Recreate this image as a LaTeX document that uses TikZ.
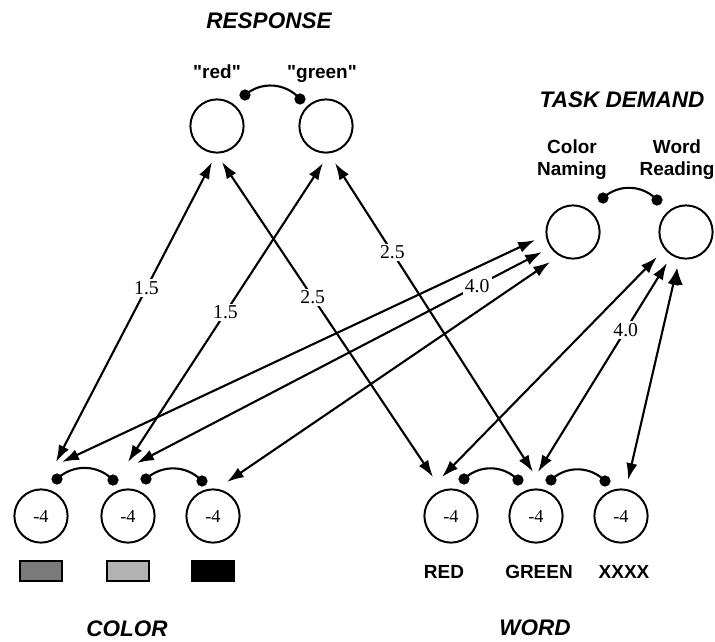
\documentclass[tikz,border=0pt]{standalone}
\usepackage{fontspec}
\setmainfont{Liberation Serif}
\setsansfont{Liberation Sans}[Ligatures=TeXOff]
\usepackage{tikz}
\usetikzlibrary{arrows.meta,positioning}
\definecolor{swatchdark}{gray}{0.48}
\definecolor{swatchlight}{gray}{0.70}
\tikzset{
  unit/.style={circle,draw,line width=1.4pt,minimum size=1.33cm,inner sep=0pt,
    font=\fontsize{13}{15}\selectfont},
  pool/.style={font=\sffamily\bfseries\itshape\fontsize{16}{19}\selectfont},
  lab/.style={font=\sffamily\bfseries\fontsize{13.5}{15.5}\selectfont,align=center},
  wt/.style={fill=white,inner sep=1.5pt,font=\fontsize{14}{16}\selectfont},
  swatch/.style={draw,line width=0.9pt,minimum width=1.05cm,minimum height=0.5cm,inner sep=0pt}
}
\begin{document}
\begin{tikzpicture}[x=0.025cm,y=-0.025cm,line width=1.5pt,
  >={Latex[length=12pt,width=8pt]}]
\useasboundingbox (0,0) rectangle (715,641);
%%First place the units
\node[unit] (r1) at (217,126) {};
\node[unit] (r2) at (326,126) {};
\node[unit] (cn) at (573,232) {};
\node[unit] (wr) at (686,232) {};
\node[unit] (c1) at (41,516) {-4};
\node[unit] (c2) at (128,516) {-4};
\node[unit] (c3) at (213,516) {-4};
\node[unit] (w1) at (451,516) {-4};
\node[unit] (w2) at (536,516) {-4};
\node[unit] (w3) at (621,516) {-4};
%%Titles and labels
\node[pool] (tresp) at (269,21) {RESPONSE};
\node[pool] (ttask) at (622,100) {TASK DEMAND};
\node[pool] (tcol) at (127,629) {COLOR};
\node[pool] (tword) at (535,628) {WORD};
\node[lab,anchor=base] (lred) at (217,78) {"red"};
\node[lab,anchor=base] (lgreen) at (322,78) {"green"};
\node[lab] (lcn) at (572,160) {Color\\Naming};
\node[lab] (lwr) at (677,160) {Word\\Reading};
\node[lab] (wred) at (444,572) {RED};
\node[lab] (wgreen) at (539,572) {GREEN};
\node[lab] (wxxxx) at (624,572) {XXXX};
%%Colour patches
\node[swatch,fill=swatchdark] (s1) [below=0.42cm of c1] {};
\node[swatch,fill=swatchlight] (s2) [below=0.42cm of c2] {};
\node[swatch,fill=black] (s3) [below=0.42cm of c3] {};
%%Ports where the arrows end
\coordinate (r1-c1) at (212,162);
\coordinate (r1-w1) at (222,162);
\coordinate (r2-c2) at (323,163);
\coordinate (r2-w2) at (335,163);
\coordinate (cn-c1) at (535,240);
\coordinate (cn-c2) at (542,252);
\coordinate (cn-c3) at (550,262);
\coordinate (wr-w1) at (657,257);
\coordinate (wr-w2) at (667,263);
\coordinate (wr-w3) at (677,268);
\coordinate (c1-r1) at (56,462);
\coordinate (c1-cn) at (62,462);
\coordinate (c2-r2) at (128,462);
\coordinate (c2-cn) at (137,463);
\coordinate (c3-cn) at (227,482);
\coordinate (w1-r1) at (433,477);
\coordinate (w1-wr) at (442,477);
\coordinate (w2-r2) at (533,472);
\coordinate (w2-wr) at (538,472);
\coordinate (w3-wr) at (628,480);
%%Draw the weighted arrows
\draw[<->]
(r1-c1) edge node[wt,pos=0.42] {1.5} (c1-r1)
(r2-c2) edge node[wt,pos=0.5] {1.5} (c2-r2)
(r1-w1) edge node[wt,pos=0.43] {2.5} (w1-r1)
(r2-w2) edge node[wt,pos=0.29] {2.5} (w2-r2)
(cn-c1) edge (c1-cn)
(cn-c2) edge node[wt,pos=0.16] {4.0} (c2-cn)
(cn-c3) edge (c3-cn)
(wr-w1) edge (w1-wr)
(wr-w2) edge node[wt,pos=0.32] {4.0} (w2-wr)
(wr-w3) edge (w3-wr);
%%Ends of the inhibitory links
\coordinate (ra) at (245,95);
\coordinate (rb) at (300,99);
\coordinate (ta) at (603,198);
\coordinate (tb) at (657,200);
\coordinate (ca) at (57,479);
\coordinate (cb) at (113,480);
\coordinate (cc) at (146,479);
\coordinate (cd) at (202,481);
\coordinate (wa) at (464,479);
\coordinate (wb) at (518,480);
\coordinate (wc) at (551,480);
\coordinate (wd) at (605,481);
%%Draw the inhibitory links
\foreach \a/\b in {ra/rb,ta/tb,ca/cb,cc/cd,wa/wb,wc/wd}{
  \fill (\a) circle (4pt) (\b) circle (4pt);
  \draw (\a) to[bend left=45] (\b);
}
\end{tikzpicture}
\end{document}
